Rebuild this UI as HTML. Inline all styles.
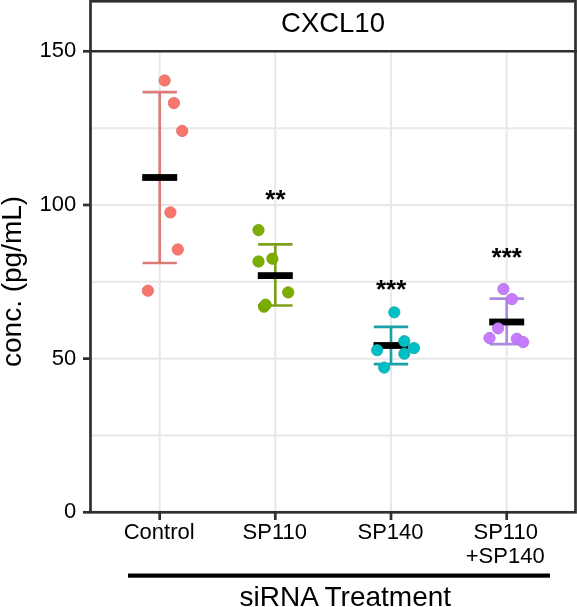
<!DOCTYPE html>
<html><head><meta charset="utf-8"><style>
html,body{margin:0;padding:0;background:#fff;width:577px;height:607px;overflow:hidden}
svg{display:block;will-change:transform}
text{font-family:"Liberation Sans",sans-serif;fill:#000}
</style></head><body>
<svg width="577" height="607" viewBox="0 0 577 607">
<rect x="0" y="0" width="577" height="607" fill="#fff"/>
<line x1="92" x2="574" y1="435.47" y2="435.47" stroke="#E8E8E8" stroke-width="2"/>
<line x1="92" x2="574" y1="358.63" y2="358.63" stroke="#E8E8E8" stroke-width="2"/>
<line x1="92" x2="574" y1="281.80" y2="281.80" stroke="#E8E8E8" stroke-width="2"/>
<line x1="92" x2="574" y1="204.97" y2="204.97" stroke="#E8E8E8" stroke-width="2"/>
<line x1="92" x2="574" y1="128.14" y2="128.14" stroke="#E8E8E8" stroke-width="2"/>
<line x1="159.7" x2="159.7" y1="52.5" y2="511" stroke="#E8E8E8" stroke-width="2"/>
<line x1="275.3" x2="275.3" y1="52.5" y2="511" stroke="#E8E8E8" stroke-width="2"/>
<line x1="391.0" x2="391.0" y1="52.5" y2="511" stroke="#E8E8E8" stroke-width="2"/>
<line x1="506.7" x2="506.7" y1="52.5" y2="511" stroke="#E8E8E8" stroke-width="2"/>
<g stroke="#DA7D76" stroke-width="2.7" fill="none"><line x1="159.7" x2="159.7" y1="92.2" y2="263"/><line x1="142.5" x2="176.89999999999998" y1="92.2" y2="92.2"/><line x1="142.5" x2="176.89999999999998" y1="263" y2="263"/></g>
<rect x="142.20" y="174.10" width="35" height="6.8" fill="#000"/>
<circle cx="164.60" cy="80.50" r="5.65" fill="#F8766D" stroke="#DE6A62" stroke-width="0.8"/>
<circle cx="173.90" cy="103.10" r="5.65" fill="#F8766D" stroke="#DE6A62" stroke-width="0.8"/>
<circle cx="182.20" cy="130.90" r="5.65" fill="#F8766D" stroke="#DE6A62" stroke-width="0.8"/>
<circle cx="170.40" cy="212.40" r="5.65" fill="#F8766D" stroke="#DE6A62" stroke-width="0.8"/>
<circle cx="177.80" cy="249.50" r="5.65" fill="#F8766D" stroke="#DE6A62" stroke-width="0.8"/>
<circle cx="147.90" cy="290.70" r="5.65" fill="#F8766D" stroke="#DE6A62" stroke-width="0.8"/>
<g stroke="#7C9F1C" stroke-width="2.7" fill="none"><line x1="275.3" x2="275.3" y1="244.3" y2="305.5"/><line x1="258.1" x2="292.5" y1="244.3" y2="244.3"/><line x1="258.1" x2="292.5" y1="305.5" y2="305.5"/></g>
<rect x="257.80" y="272.20" width="35" height="6.8" fill="#000"/>
<circle cx="258.50" cy="230.10" r="5.65" fill="#7CAE00" stroke="#6E9A08" stroke-width="0.8"/>
<circle cx="258.50" cy="261.50" r="5.65" fill="#7CAE00" stroke="#6E9A08" stroke-width="0.8"/>
<circle cx="272.40" cy="258.70" r="5.65" fill="#7CAE00" stroke="#6E9A08" stroke-width="0.8"/>
<circle cx="288.20" cy="292.40" r="5.65" fill="#7CAE00" stroke="#6E9A08" stroke-width="0.8"/>
<circle cx="264.00" cy="306.70" r="5.65" fill="#7CAE00" stroke="#6E9A08" stroke-width="0.8"/>
<circle cx="265.60" cy="304.70" r="5.65" fill="#7CAE00" stroke="#6E9A08" stroke-width="0.8"/>
<text x="275.40" y="207.80" text-anchor="middle" font-weight="bold" font-size="26">**</text>
<g stroke="#1AA0A7" stroke-width="2.7" fill="none"><line x1="391.0" x2="391.0" y1="326.9" y2="364.1"/><line x1="373.8" x2="408.2" y1="326.9" y2="326.9"/><line x1="373.8" x2="408.2" y1="364.1" y2="364.1"/></g>
<rect x="373.50" y="342.10" width="35" height="6.8" fill="#000"/>
<circle cx="394.30" cy="312.30" r="5.65" fill="#00BFC4" stroke="#10A8AE" stroke-width="0.8"/>
<circle cx="377.20" cy="350.20" r="5.65" fill="#00BFC4" stroke="#10A8AE" stroke-width="0.8"/>
<circle cx="404.30" cy="341.20" r="5.65" fill="#00BFC4" stroke="#10A8AE" stroke-width="0.8"/>
<circle cx="414.00" cy="348.10" r="5.65" fill="#00BFC4" stroke="#10A8AE" stroke-width="0.8"/>
<circle cx="404.30" cy="353.70" r="5.65" fill="#00BFC4" stroke="#10A8AE" stroke-width="0.8"/>
<circle cx="384.20" cy="367.60" r="5.65" fill="#00BFC4" stroke="#10A8AE" stroke-width="0.8"/>
<text x="391.10" y="297.80" text-anchor="middle" font-weight="bold" font-size="26">***</text>
<g stroke="#AC8ADD" stroke-width="2.7" fill="none"><line x1="506.7" x2="506.7" y1="298.7" y2="344.1"/><line x1="489.5" x2="523.9" y1="298.7" y2="298.7"/><line x1="489.5" x2="523.9" y1="344.1" y2="344.1"/></g>
<rect x="489.20" y="318.60" width="35" height="6.8" fill="#000"/>
<circle cx="503.40" cy="289.00" r="5.65" fill="#C77CFF" stroke="#B070E0" stroke-width="0.8"/>
<circle cx="512.00" cy="299.10" r="5.65" fill="#C77CFF" stroke="#B070E0" stroke-width="0.8"/>
<circle cx="498.10" cy="328.30" r="5.65" fill="#C77CFF" stroke="#B070E0" stroke-width="0.8"/>
<circle cx="489.50" cy="338.00" r="5.65" fill="#C77CFF" stroke="#B070E0" stroke-width="0.8"/>
<circle cx="516.80" cy="338.70" r="5.65" fill="#C77CFF" stroke="#B070E0" stroke-width="0.8"/>
<circle cx="523.10" cy="342.10" r="5.65" fill="#C77CFF" stroke="#B070E0" stroke-width="0.8"/>
<text x="506.80" y="266.10" text-anchor="middle" font-weight="bold" font-size="26">***</text>
<rect x="90.5" y="1.25" width="485" height="511.05" fill="none" stroke="#2F2F2F" stroke-width="2.7"/>
<line x1="89" x2="577" y1="51.3" y2="51.3" stroke="#2F2F2F" stroke-width="2.6"/>
<line x1="83" x2="90" y1="512.30" y2="512.30" stroke="#2F2F2F" stroke-width="2.7"/>
<text x="76.2" y="518.30" text-anchor="end" font-size="22">0</text>
<line x1="83" x2="90" y1="358.63" y2="358.63" stroke="#2F2F2F" stroke-width="2.7"/>
<text x="76.2" y="364.63" text-anchor="end" font-size="22">50</text>
<line x1="83" x2="90" y1="204.97" y2="204.97" stroke="#2F2F2F" stroke-width="2.7"/>
<text x="76.2" y="210.97" text-anchor="end" font-size="22">100</text>
<line x1="83" x2="90" y1="51.30" y2="51.30" stroke="#2F2F2F" stroke-width="2.7"/>
<text x="76.2" y="57.30" text-anchor="end" font-size="22">150</text>
<line x1="159.7" x2="159.7" y1="512" y2="520" stroke="#2F2F2F" stroke-width="2.7"/>
<line x1="275.3" x2="275.3" y1="512" y2="520" stroke="#2F2F2F" stroke-width="2.7"/>
<line x1="391.0" x2="391.0" y1="512" y2="520" stroke="#2F2F2F" stroke-width="2.7"/>
<line x1="506.7" x2="506.7" y1="512" y2="520" stroke="#2F2F2F" stroke-width="2.7"/>
<text x="159.2" y="539.1" text-anchor="middle" font-size="22">Control</text>
<text x="274.8" y="539.1" text-anchor="middle" font-size="22">SP110</text>
<text x="390.5" y="539.1" text-anchor="middle" font-size="22">SP140</text>
<text x="505.7" y="539.1" text-anchor="middle" font-size="22">SP110</text>
<text x="505.2" y="562.8" text-anchor="middle" font-size="22">+SP140</text>
<text x="333" y="32.2" text-anchor="middle" font-size="27.5">CXCL10</text>
<text transform="translate(20.8,281.4) rotate(-90)" x="0" y="0" text-anchor="middle" font-size="28">conc. (pg/mL)</text>
<rect x="128" y="573.5" width="422" height="4.2" fill="#000"/>
<text x="345.3" y="606" text-anchor="middle" font-size="28">siRNA Treatment</text>
</svg></body></html>
